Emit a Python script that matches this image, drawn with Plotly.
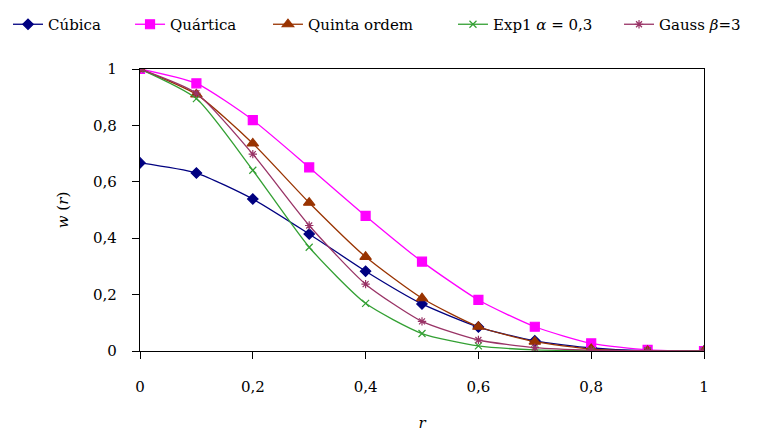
import plotly.graph_objects as go

r = [0, 0.1, 0.2, 0.3, 0.4, 0.5, 0.6, 0.7, 0.8, 0.9, 1.0]
cubica = [0.667, 0.631, 0.539, 0.415, 0.283, 0.167, 0.085, 0.036, 0.011, 0.001, 0.0]
quartica = [1.0, 0.949, 0.819, 0.651, 0.479, 0.317, 0.181, 0.086, 0.027, 0.004, 0.0]
quinta = [1.0, 0.91, 0.736, 0.526, 0.334, 0.187, 0.086, 0.033, 0.007, 0.0005, 0.0]
exp1 = [1.0, 0.895, 0.641, 0.368, 0.169, 0.062, 0.018, 0.004, 0.001, 0.0, 0.0]
gauss = [1.0, 0.914, 0.698, 0.445, 0.237, 0.105, 0.039, 0.012, 0.003, 0.001, 0.0]
tick_vals = [0, 0.2, 0.4, 0.6, 0.8, 1]
tick_text = ["0", "0,2", "0,4", "0,6", "0,8", "1"]

series = [
    ("Cúbica", cubica, "#000080", "diamond", 8),
    ("Quártica", quartica, "#FF00FF", "square", 9),
    ("Quinta ordem", quinta, "#993300", "triangle-up", 10),
    ("Exp1 <i>α</i> = 0,3", exp1, "#33A033", "x-thin-open", 7),
    ("Gauss <i>β</i>=3", gauss, "#993366", "asterisk-open", 7),
]
legend_ids = ["legend", "legend2", "legend3", "legend4", "legend5"]
legend_x = [0.0, 0.1589, 0.3385, 0.5794, 0.7956]

fig = go.Figure()
for (name, ys, color, sym, size), lid in zip(series, legend_ids):
    fig.add_trace(go.Scatter(
        x=r, y=ys, name=name, mode="lines+markers", legend=lid,
        line=dict(color=color, width=1.3, shape="spline", smoothing=0.6),
        marker=dict(symbol=sym, size=size, color=color,
                    line=dict(color=color, width=1.2)),
    ))

FF = "DejaVu Serif"
legend_common = dict(orientation="h", xref="container", yref="container", y=1.0,
                     xanchor="left", yanchor="top",
                     font=dict(family=FF, size=15, color="black"),
                     bgcolor="rgba(0,0,0,0)")
fig.update_layout(
    width=768, height=437,
    paper_bgcolor="white", plot_bgcolor="white",
    separators=", ",
    font=dict(family=FF, size=15, color="black"),
    margin=dict(l=132, r=72, t=61, b=94, autoexpand=False),
    showlegend=True,
    xaxis=dict(range=[0, 1], tickvals=tick_vals, ticktext=tick_text,
               showgrid=False, zeroline=False, showline=True, linecolor="black",
               linewidth=1.3, mirror=True, ticks="outside", ticklen=7,
               tickcolor="black", tickfont=dict(family=FF, size=15),
               ticklabelstandoff=15,
               title=dict(text="<i>r</i>", standoff=22, font=dict(family=FF, size=15))),
    yaxis=dict(range=[0, 1], tickvals=tick_vals, ticktext=tick_text,
               showgrid=False, zeroline=False, showline=True, linecolor="black",
               linewidth=1.3, mirror=True, ticks="outside", ticklen=7,
               tickcolor="black", tickfont=dict(family=FF, size=15),
               ticklabelstandoff=12,
               title=dict(text="<i>w</i> (<i>r</i>)", standoff=20, font=dict(family=FF, size=15))),
)
for lid, lx in zip(legend_ids, legend_x):
    fig.update_layout({lid: dict(legend_common, x=lx)})
fig.write_html("out.html")
